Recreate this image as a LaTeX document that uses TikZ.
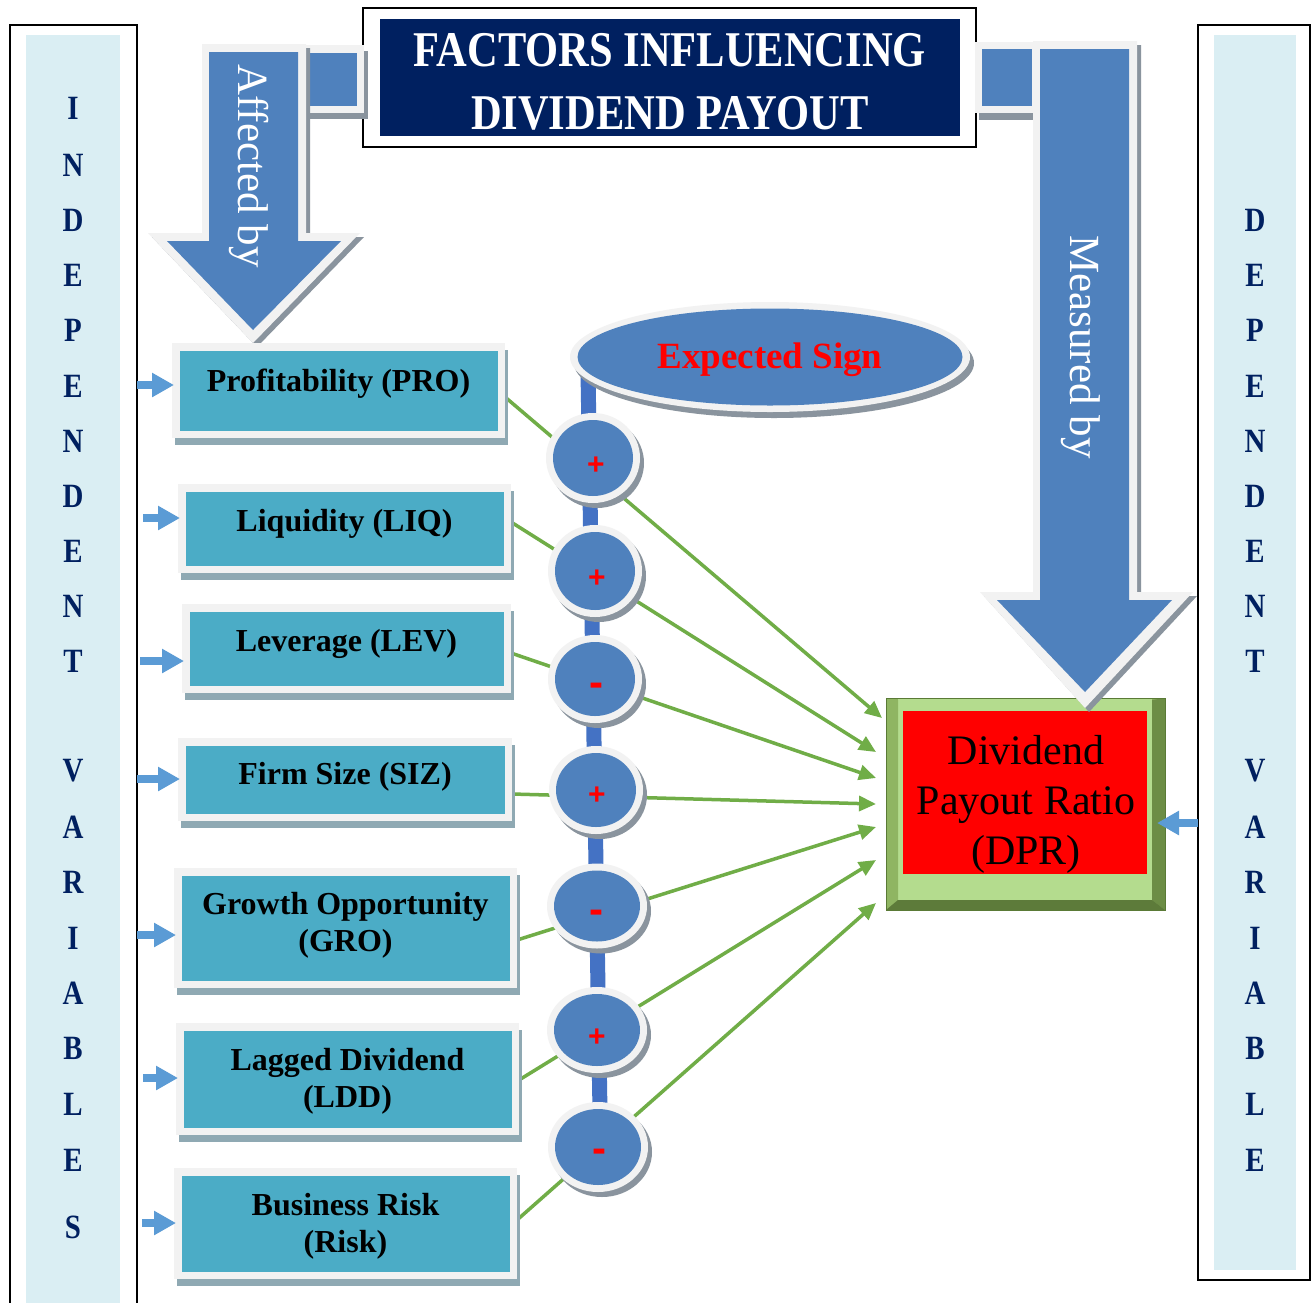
\documentclass[tikz,border=0pt]{standalone}
\usepackage{fontspec}
\setmainfont{Liberation Serif}
\newfontfamily\titlefont[FakeStretch=0.85]{Liberation Serif}
\newfontfamily\signfont{Liberation Sans}
\usetikzlibrary{shapes.geometric,shadows,calc,arrows.meta}
\definecolor{navy}{HTML}{002060}
\definecolor{ltblue}{HTML}{DAEEF3}
\definecolor{bigblue}{HTML}{4F81BD}
\definecolor{chainblue}{HTML}{4472C4}
\definecolor{outl}{HTML}{F2F2F2}
\definecolor{arrshadow}{HTML}{8A949E}
\definecolor{boxshadow}{HTML}{8FA9B3}
\definecolor{tealc}{HTML}{4BACC6}
\definecolor{lgreen}{HTML}{70AD47}
\definecolor{sblue}{HTML}{5B9BD5}
\definecolor{dprred}{HTML}{FF0000}
\definecolor{dprface}{HTML}{B4DC8E}
\definecolor{dprleft}{HTML}{8FB562}
\definecolor{dprright}{HTML}{6C8D45}
\definecolor{dprbot}{HTML}{5D7B3A}
\definecolor{dprmid}{HTML}{8DB25F}
\definecolor{dprline}{HTML}{5A7A36}
\pgfdeclarelayer{back}
\pgfsetlayers{back,main}
\begin{document}
\begin{tikzpicture}[x=1pt,y=-1pt,
  vbox/.style={rectangle, fill=outl, inner sep=0pt, outer sep=0pt,
    drop shadow={shadow xshift=3pt, shadow yshift=-7pt, fill=boxshadow, opacity=1}},
  vtext/.style={font=\fontsize{32}{37}\selectfont\bfseries, align=center, inner sep=0pt},
  sgnc/.style={ellipse, fill=outl, inner sep=0pt, outer sep=0pt,
    drop shadow={shadow xshift=4pt, shadow yshift=-5pt, fill=arrshadow, opacity=1}},
  plusc/.style={font=\signfont\fontsize{30}{30}\selectfont\bfseries, text=dprred, inner sep=0pt},
  minusc/.style={font=\signfont\fontsize{42}{42}\selectfont\bfseries, text=dprred, inner sep=0pt},
  gline/.style={draw=lgreen, line width=3.5pt, -{Triangle[length=17pt,width=15pt]}},
  barrow/.style={draw=sblue, line width=8pt, -{Triangle[length=22pt,width=23pt]}},
  letter/.style={font=\titlefont\fontsize{34}{34}\selectfont\bfseries, text=navy, inner sep=0pt},
  titletext/.style={font=\titlefont\fontsize{50}{50}\selectfont\bfseries, text=white, inner sep=0pt},
  arrtext/.style={font=\fontsize{43}{43}\selectfont, text=white, inner sep=0pt, rotate=-90},
]
\useasboundingbox (0,0) rectangle (1314,1302);
\begin{pgfonlayer}{back}
\fill[white] (0,0) rectangle (1314,1302);
\end{pgfonlayer}

% side bars
\fill[ltblue] (26,35) rectangle (120,1310);
\draw[black, line width=2pt] (10,1310) -- (10,25) -- (137,25) -- (137,1310);
\fill[ltblue] (1214,35) rectangle (1296,1270);
\draw[black, line width=2pt] (1198,25) rectangle (1310,1280);
\foreach \ch/\yy [count=\i] in {I/108,N/165,D/220,E/275,P/330,E/386,N/441,D/496,E/551,N/606,T/661,V/771,A/827,R/882,I/938,A/993,B/1048,L/1104,E/1160,S/1227}
  \node[letter] (lft\i) at (73,\yy) {\ch};
\foreach \ch/\yy [count=\i] in {D/220,E/275,P/330,E/386,N/441,D/496,E/551,N/606,T/661,V/771,A/827,R/882,I/938,A/993,B/1048,L/1104,E/1160}
  \node[letter] (rgt\i) at (1255,\yy) {\ch};

% title
\node[draw=black, line width=2pt, fill=white, minimum width=613pt, minimum height=139pt, inner sep=0pt, outer sep=0pt] (tframe) at (669.5,77.5) {};
\node[fill=navy, minimum width=580pt, minimum height=117pt, inner sep=0pt, outer sep=0pt] (tnavy) at (670,77.5) {};
\node[titletext, anchor=base] (title1) at (670,66.5) {FACTORS INFLUENCING};
\node[titletext, anchor=base] (title2) at (670,129.5) {DIVIDEND PAYOUT};

% DPR box
\node[rectangle, minimum width=279pt, minimum height=212pt, inner sep=0pt, outer sep=0pt, fill=dprmid] (dpr) at (1025.5,804) {};
\fill[dprface] (898,698) rectangle (1152,900);
\fill[dprleft] (886,698) -- (898,700) -- (898,900) -- (886,910) -- cycle;
\fill[dprright] (1165,698) -- (1152,700) -- (1152,900) -- (1165,910) -- cycle;
\fill[dprbot] (886,910) -- (898,900) -- (1152,900) -- (1165,910) -- cycle;
\fill[dprred] (903,711) rectangle (1147,874);
\draw[dprline, line width=1pt] (dpr.north west) rectangle (dpr.south east);
\node[font=\fontsize{42}{50}\selectfont, align=center, inner sep=0pt] (dprt) at (1026,804) {Dividend\\Payout Ratio\\(DPR)};

% left bent arrow "Affected by"
\fill[arrshadow] (304,51) rectangle (368,119);
\fill[outl] (300,45) rectangle (364,113);
\fill[bigblue] (307,53) rectangle (357,106);
\fill[arrshadow, shift={(4,4)}] (202,44) -- (306,44) -- (306,233) -- (360,233) -- (253,343) -- (148,233) -- (202,233) -- cycle;
\fill[outl] (202,44) -- (306,44) -- (306,233) -- (360,233) -- (253,343) -- (148,233) -- (202,233) -- cycle;
\fill[bigblue] (209,52) -- (298,52) -- (298,241) -- (341,241) -- (253,330) -- (167,241) -- (209,241) -- cycle;
\node[arrtext] (aff) at (249,166) {Affected by};

% right bent arrow "Measured by"
\fill[arrshadow] (979,47) rectangle (1044,120);
\fill[outl] (975,42) rectangle (1040,113);
\fill[bigblue] (982,49) rectangle (1032,106);
\fill[arrshadow, shift={(4,4)}] (1033,41) -- (1137,41) -- (1137,592) -- (1193,592) -- (1085,708) -- (980,592) -- (1033,592) -- cycle;
\fill[outl] (1033,41) -- (1137,41) -- (1137,592) -- (1193,592) -- (1085,708) -- (980,592) -- (1033,592) -- cycle;
\fill[bigblue] (1040,49) -- (1129,49) -- (1129,600) -- (1172,600) -- (1085,692) -- (997,600) -- (1040,600) -- cycle;
\node[arrtext] (meas) at (1081,347) {Measured by};

% variable boxes
\node[vbox, minimum width=333pt, minimum height=95pt] (p1) at (338.5,390.5) {};
\node[vbox, minimum width=333pt, minimum height=89pt] (p2) at (344.5,528.5) {};
\node[vbox, minimum width=329pt, minimum height=89pt] (p3) at (346.5,648.5) {};
\node[vbox, minimum width=334pt, minimum height=83pt] (p4) at (345,779.5) {};
\node[vbox, minimum width=343pt, minimum height=120pt] (p5) at (345.5,928) {};
\node[vbox, minimum width=343pt, minimum height=112pt] (p6) at (347.5,1079) {};
\node[vbox, minimum width=343pt, minimum height=111pt] (p7) at (345.5,1223.5) {};
\foreach \b in {p1,p2,p3,p4,p5,p6,p7}
  \fill[tealc] ([shift={(7.5,7.5)}]\b.north west) rectangle ([shift={(-7.5,-7.5)}]\b.south east);
\node[vtext] (v1) at (338.5,384) {Profitability (PRO)};
\node[vtext] (v2) at (344.5,524) {Liquidity (LIQ)};
\node[vtext] (v3) at (346.5,644) {Leverage (LEV)};
\node[vtext] (v4) at (345,777) {Firm Size (SIZ)};
\node[vtext] (v5) at (345.5,925.5) {Growth Opportunity\\(GRO)};
\node[vtext] (v6) at (347.5,1081) {Lagged Dividend\\(LDD)};
\node[vtext] (v7) at (345.5,1226) {Business Risk\\(Risk)};

% expected sign ellipse
\node[ellipse, fill=outl, inner sep=0pt, outer sep=0pt, minimum width=400pt, minimum height=110pt,
  drop shadow={shadow xshift=4pt, shadow yshift=-6pt, fill=arrshadow, opacity=1}] (es) at (770,357) {};
\fill[bigblue] (es.center) ellipse [x radius=192.5pt, y radius=48.5pt];
\node[font=\fontsize{37}{37}\selectfont\bfseries, text=dprred, inner sep=0pt] (est) at (770,360) {Expected Sign};

% sign circles
\foreach \w/\h/\xx/\yy/\st/\sx/\sy/\sg [count=\i] in {
  94/90/593/458/plusc/596/466/+,
  94/92/595/571/plusc/597/579/+,
  94/88/595/679/minusc/596/690/-,
  94/88/596/790/plusc/597/796/+,
  100/85/597/906/minusc/596/917/-,
  100/86/597/1030/plusc/597/1038/+,
  100/90/598/1147/minusc/599/1156/-}
{
  \node[sgnc, minimum width=\w pt, minimum height=\h pt] (c\i) at (\xx,\yy) {};
  \fill[bigblue] (c\i.center) ellipse [x radius={\w/2-7}, y radius={\h/2-7}];
  \node[\st] (sg\i) at (\sx,\sy) {\sg};
}

% connectors (behind)
\coordinate (t1) at (882,718);
\coordinate (t2) at (876,752);
\coordinate (t3) at (876,778);
\coordinate (t4) at (876,804);
\coordinate (t5) at (876,827);
\coordinate (t6) at (876,860);
\coordinate (t7) at (876,903);
\coordinate (chtop) at (588,372);
\coordinate (chbot) at (600,1112);
\begin{pgfonlayer}{back}
\draw[chainblue, line width=15pt] (chtop) -- (chbot);
\draw[gline] ($(p1.east)+(0,6.5)$) -- (t1);
\draw[gline] ($(p2.east)+(0,-6.5)$) -- (t2);
\draw[gline] ($(p3.east)+(0,4.5)$) -- (t3);
\draw[gline] ($(p4.east)+(0,14.5)$) -- (t4);
\draw[gline] ($(p5.east)+(0,12)$) -- (t5);
\draw[gline] ($(p6.east)+(0,1)$) -- (t6);
\draw[gline] ($(p7.east)+(0,-3.5)$) -- (t7);
\end{pgfonlayer}

% small blue arrows
\coordinate (s1) at (137,385);
\coordinate (s2) at (143,518);
\coordinate (s3) at (140,661);
\coordinate (s4) at (137,779);
\coordinate (s5) at (137,935);
\coordinate (s6) at (143,1078);
\coordinate (s7) at (142,1223);
\foreach \i in {1,...,7}
  \draw[barrow, shorten >=-2pt] (s\i) -- (s\i -| p\i.west);
\coordinate (rs) at (1198,823);
\draw[barrow, shorten >=-8pt] (rs) -- (rs -| dpr.east);
\end{tikzpicture}
\end{document}
